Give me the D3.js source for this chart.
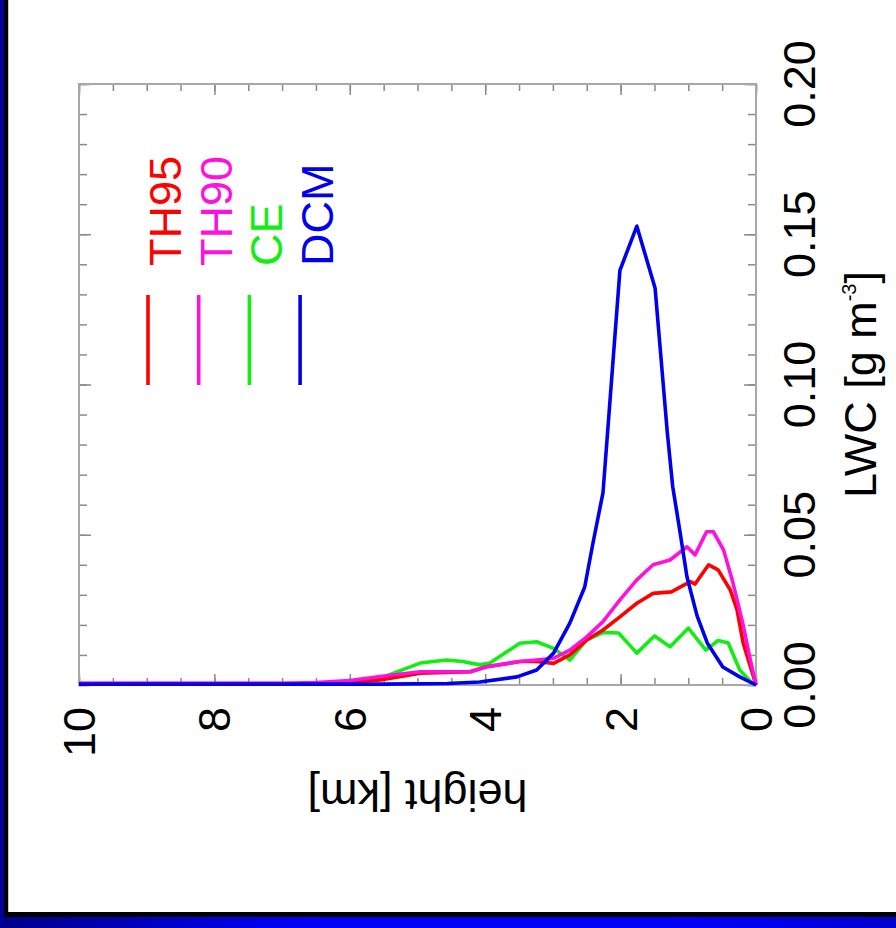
<!DOCTYPE html>
<html>
<head>
<meta charset="utf-8">
<script src="https://cdn.jsdelivr.net/npm/d3@7"></script>
<style>
  html, body { margin: 0; padding: 0; background: #fff; }
  svg text { font-family: "Liberation Sans", Arial, Helvetica, sans-serif; }
</style>
</head>
<body>
<div id="chart"></div>
<script>
// series: height [km] and LWC [g m-3]
var seriesNames = ["TH95", "TH90", "CE", "DCM"];
var seriesColors = ["#ff0000", "#ff11dd", "#11ee11", "#0000ee"];

var th95H = [0, 0.19, 0.28, 0.38, 0.56, 0.7, 0.9, 0.97, 1.25, 1.52, 1.76, 2.01, 2.26, 2.5, 2.75, 2.99, 3.24, 3.49, 3.98, 4.22, 4.96, 5.55, 6.0, 6.5, 7, 10];
var th95V = [0, 0.014, 0.025, 0.0316, 0.0383, 0.040, 0.0336, 0.0344, 0.031, 0.0305, 0.0272, 0.0227, 0.0183, 0.015, 0.010, 0.0072, 0.0078, 0.0078, 0.0061, 0.0044, 0.0039, 0.0017, 0.001, 0.0006, 0.0005, 0.0005];

var th90H = [0, 0.09, 0.19, 0.34, 0.48, 0.63, 0.73, 0.9, 1.02, 1.27, 1.52, 1.76, 2.01, 2.26, 2.5, 2.75, 2.99, 3.24, 3.49, 3.98, 4.22, 4.96, 5.55, 6.0, 6.5, 7, 10];
var th90V = [0, 0.009, 0.02, 0.034, 0.045, 0.051, 0.051, 0.0433, 0.046, 0.0416, 0.040, 0.035, 0.0283, 0.0211, 0.016, 0.0116, 0.0089, 0.0083, 0.0078, 0.0061, 0.0044, 0.0044, 0.0028, 0.0015, 0.0008, 0.0006, 0.0006];

var ceH = [0, 0.06, 0.24, 0.41, 0.56, 0.74, 1.0, 1.27, 1.5, 1.76, 2.03, 2.25, 2.5, 2.75, 2.99, 3.24, 3.49, 3.93, 4.08, 4.33, 4.57, 4.96, 5.55, 6.0, 6.5, 7, 10];
var ceV = [0, 0.0007, 0.005, 0.014, 0.0148, 0.0116, 0.0189, 0.0127, 0.0163, 0.0106, 0.0173, 0.0175, 0.015, 0.0083, 0.0122, 0.0144, 0.0139, 0.0073, 0.0067, 0.0078, 0.0083, 0.0073, 0.0023, 0.001, 0.0005, 0.0004, 0.0004];

var dcmH = [0, 0.24, 0.49, 0.72, 0.87, 1.02, 1.12, 1.23, 1.31, 1.49, 1.76, 2.01, 2.26, 2.41, 2.53, 2.75, 2.99, 3.24, 3.53, 4.08, 4.56, 5.5, 7, 10];
var dcmV = [0, 0.0027, 0.006, 0.014, 0.023, 0.036, 0.0506, 0.066, 0.084, 0.132, 0.1527, 0.138, 0.064, 0.047, 0.0326, 0.0206, 0.0106, 0.005, 0.0027, 0.001, 0.0005, 0.0003, 0.0003, 0.0003];

var heightTicks = [0, 2, 4, 6, 8, 10];
var lwcTicks = [0, 0.05, 0.10, 0.15, 0.20];

var W = 896, H = 928;
var plot = {left: 79, right: 756, top: 84, bottom: 685};

var svg = d3.select("#chart").append("svg")
    .attr("width", W)
    .attr("height", H);

// slide background: blue, black shadow, white panel
var defs = svg.append("defs");
var grad = defs.append("linearGradient").attr("id", "blueband")
    .attr("x1", "0%").attr("x2", "100%");
grad.append("stop").attr("offset", "0%").attr("stop-color", "#000088");
grad.append("stop").attr("offset", "35%").attr("stop-color", "#0000ff");
grad.append("stop").attr("offset", "75%").attr("stop-color", "#0000ff");
grad.append("stop").attr("offset", "100%").attr("stop-color", "#0000d0");

svg.append("rect").attr("width", W).attr("height", H).attr("fill", "url(#blueband)");
svg.append("rect").attr("x", 0).attr("y", 0).attr("width", 4).attr("height", H).attr("fill", "#000099");
svg.append("rect").attr("x", 4).attr("y", 0).attr("width", W).attr("height", 917).attr("fill", "#000");
svg.append("rect").attr("x", 8).attr("y", 0).attr("width", W).attr("height", 912).attr("fill", "#fff");
svg.append("line").attr("x1", 8.5).attr("x2", 8.5).attr("y1", 0).attr("y2", 912)
    .attr("stroke", "#c8c8c8").attr("stroke-width", 1);

var x = d3.scaleLinear().domain([10, 0]).range([plot.left, plot.right]);
var y = d3.scaleLinear().domain([0, 0.2]).range([plot.bottom, plot.top]);

var minorH = d3.range(0, 10.01, 0.5);
var minorL = d3.range(0, 0.2001, 0.01);

function tickAxis(axis, tx, ty) {
  var g = svg.append("g")
      .attr("transform", "translate(" + tx + "," + ty + ")")
      .call(axis);
  g.select(".domain").remove();
  g.selectAll("line").attr("stroke", "#8a8a8a").attr("stroke-width", 1.5);
  return g;
}

// inward ticks on all four sides
tickAxis(d3.axisBottom(x).tickValues(minorH).tickSize(-7).tickFormat(""), 0, plot.bottom);
tickAxis(d3.axisBottom(x).tickValues(heightTicks).tickSize(-11).tickFormat(""), 0, plot.bottom);
tickAxis(d3.axisTop(x).tickValues(minorH).tickSize(-7).tickFormat(""), 0, plot.top);
tickAxis(d3.axisTop(x).tickValues(heightTicks).tickSize(-11).tickFormat(""), 0, plot.top);
tickAxis(d3.axisLeft(y).tickValues(minorL).tickSize(-8).tickFormat(""), plot.left, 0);
tickAxis(d3.axisLeft(y).tickValues(lwcTicks).tickSize(-12).tickFormat(""), plot.left, 0);
tickAxis(d3.axisRight(y).tickValues(minorL).tickSize(-8).tickFormat(""), plot.right, 0);
tickAxis(d3.axisRight(y).tickValues(lwcTicks).tickSize(-12).tickFormat(""), plot.right, 0);

svg.append("rect")
    .attr("x", plot.left).attr("y", plot.top)
    .attr("width", plot.right - plot.left).attr("height", plot.bottom - plot.top)
    .attr("fill", "none").attr("stroke", "#a8a8a8").attr("stroke-width", 2);

// curves
var line = d3.line()
    .x(function(d) { return x(d[0]); })
    .y(function(d) { return y(d[1]); });

var allSeries = [d3.zip(th95H, th95V), d3.zip(th90H, th90V), d3.zip(ceH, ceV), d3.zip(dcmH, dcmV)];
var drawOrder = [2, 0, 1, 3];
drawOrder.forEach(function(i) {
  svg.append("path")
      .datum(allSeries[i])
      .attr("d", line)
      .attr("fill", "none")
      .attr("stroke", seriesColors[i])
      .attr("stroke-width", 3.6)
      .attr("stroke-linejoin", "round");
});

var fs = 45;

// height tick labels, turned a quarter
svg.selectAll("text.hlab")
    .data(heightTicks)
    .enter().append("text")
    .attr("class", "hlab")
    .attr("transform", function(d) { return "translate(" + (x(d) + 16) + ",707) rotate(-90)"; })
    .attr("text-anchor", "end")
    .attr("font-size", fs)
    .text(function(d) { return d; });

// LWC tick labels
svg.selectAll("text.llab")
    .data(lwcTicks)
    .enter().append("text")
    .attr("class", "llab")
    .attr("transform", function(d) { return "translate(815," + y(d) + ") rotate(-90)"; })
    .attr("text-anchor", "middle")
    .attr("font-size", fs)
    .text(function(d) { return d3.format(".2f")(d); });

// axis titles
var lwcTitle = svg.append("text")
    .attr("transform", "translate(876," + y(0.1) + ") rotate(-90)")
    .attr("text-anchor", "middle")
    .attr("font-size", fs);
lwcTitle.append("tspan").text("LWC [g m");
lwcTitle.append("tspan").attr("font-size", 20).attr("dy", -20).text("-3");
lwcTitle.append("tspan").attr("dy", 20).text("]");

svg.append("text")
    .attr("transform", "translate(" + ((plot.left + plot.right) / 2) + ",780) rotate(180)")
    .attr("text-anchor", "middle")
    .attr("font-size", fs)
    .text("height [km]");

// legend
seriesNames.forEach(function(name, i) {
  var lx = 148 + i * 50.7;
  svg.append("line")
      .attr("x1", lx).attr("x2", lx)
      .attr("y1", 295).attr("y2", 385)
      .attr("stroke", seriesColors[i]).attr("stroke-width", 3.6);
  svg.append("text")
      .attr("transform", "translate(" + (lx + 33) + ",266) rotate(-90)")
      .attr("font-size", fs)
      .attr("fill", seriesColors[i])
      .text(name);
});
</script>
</body>
</html>
